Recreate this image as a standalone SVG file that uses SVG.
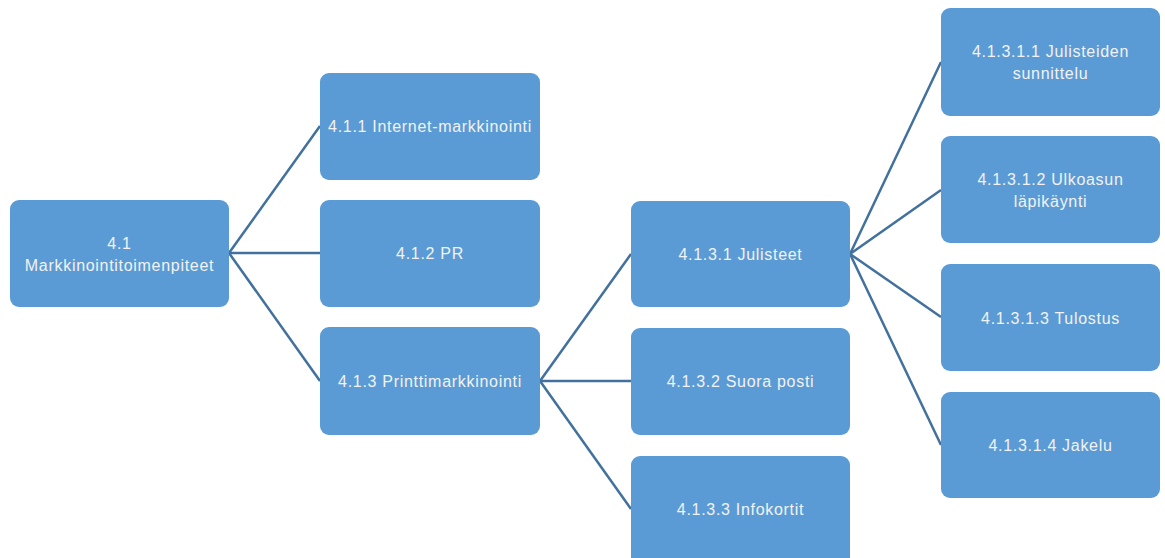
<svg xmlns="http://www.w3.org/2000/svg" width="1165" height="558" viewBox="0 0 1165 558">
<style>
.n rect{fill:#5B9BD5;stroke:none}
.n text{fill:#F2F2F2;font-family:"Liberation Sans",Arial,sans-serif;font-size:16px;letter-spacing:0.7px;text-anchor:middle}
.c line{stroke:#41719C;stroke-width:2.5}
</style>
<rect width="1165" height="558" fill="#fff"/>
<g class="c" id="connectors">
<line x1="229" y1="253" x2="320" y2="126"/>
<line x1="229" y1="253" x2="320" y2="253"/>
<line x1="229" y1="253" x2="320" y2="381"/>
<line x1="540" y1="381" x2="631" y2="254"/>
<line x1="540" y1="381" x2="631" y2="381"/>
<line x1="540" y1="381" x2="631" y2="509"/>
<line x1="850" y1="254" x2="941" y2="62"/>
<line x1="850" y1="254" x2="941" y2="190"/>
<line x1="850" y1="254" x2="941" y2="317"/>
<line x1="850" y1="254" x2="941" y2="445"/>
</g>
<g class="n" id="n41"><rect x="10" y="200" width="219" height="107" rx="9"/><text x="119.5" y="249">4.1</text><text x="119.5" y="271">Markkinointitoimenpiteet</text></g>
<g class="n" id="n411"><rect x="320" y="73" width="220" height="107" rx="9"/><text x="430" y="132">4.1.1 Internet-markkinointi</text></g>
<g class="n" id="n412"><rect x="320" y="200" width="220" height="107" rx="9"/><text x="430" y="259">4.1.2 PR</text></g>
<g class="n" id="n413"><rect x="320" y="327" width="220" height="108" rx="9"/><text x="430" y="387">4.1.3 Printtimarkkinointi</text></g>
<g class="n" id="n4131"><rect x="631" y="201" width="219" height="106" rx="9"/><text x="740.5" y="260">4.1.3.1 Julisteet</text></g>
<g class="n" id="n4132"><rect x="631" y="328" width="219" height="107" rx="9"/><text x="740.5" y="387">4.1.3.2 Suora posti</text></g>
<g class="n" id="n4133"><rect x="631" y="456" width="219" height="110" rx="9"/><text x="740.5" y="515">4.1.3.3 Infokortit</text></g>
<g class="n" id="n41311"><rect x="941" y="8" width="219" height="108" rx="9"/><text x="1050.5" y="57">4.1.3.1.1 Julisteiden</text><text x="1050.5" y="79">sunnittelu</text></g>
<g class="n" id="n41312"><rect x="941" y="136" width="219" height="107" rx="9"/><text x="1050.5" y="185">4.1.3.1.2 Ulkoasun</text><text x="1050.5" y="207">läpikäynti</text></g>
<g class="n" id="n41313"><rect x="941" y="264" width="219" height="107" rx="9"/><text x="1050.5" y="324">4.1.3.1.3 Tulostus</text></g>
<g class="n" id="n41314"><rect x="941" y="392" width="219" height="106" rx="9"/><text x="1050.5" y="451">4.1.3.1.4 Jakelu</text></g>
</svg>
